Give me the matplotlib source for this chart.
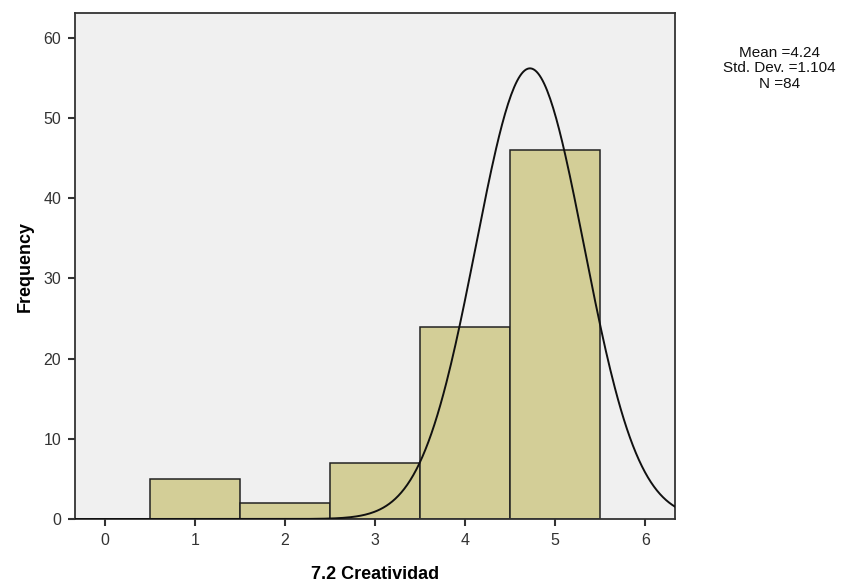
import numpy as np
import matplotlib.pyplot as plt

plt.rcParams['font.family'] = ['Liberation Sans', 'DejaVu Sans']

# histogram bins (value -> frequency)
categories = [1, 2, 3, 4, 5]
frequencies = [5, 2, 7, 24, 46]

# fitted curve as drawn in the picture (centre, spread, peak height)
curve_center = 4.72
curve_sd = 0.60
curve_peak = 56.2

stats_text = "Mean =4.24\nStd. Dev. =1.104\nN =84"

fig = plt.figure(figsize=(8.43, 5.84), dpi=100)
ax = fig.add_axes([0.089, 0.1113, 0.7117, 0.8664])
ax.set_facecolor('#f0f0f0')

ax.bar(categories, frequencies, width=1.0, color='#d3ce97',
       edgecolor='#222222', linewidth=1.1, zorder=2)

xs = np.linspace(-0.33, 6.33, 400)
ys = curve_peak * np.exp(-0.5 * ((xs - curve_center) / curve_sd) ** 2)
ax.plot(xs, ys, color='#111111', linewidth=1.4, zorder=3)

ax.set_xlim(-0.33, 6.33)
ax.set_ylim(0, 63.1)
ax.set_xticks(range(0, 7))
ax.set_yticks(range(0, 61, 10))
ax.tick_params(direction='out', length=5, width=1.5, colors='#333333',
               labelsize=11.5, labelcolor='#333333', pad=5)

for s in ax.spines.values():
    s.set_color('#333333')
    s.set_linewidth(1.3)

ax.set_xlabel('7.2 Creatividad', fontsize=13, fontweight='bold', labelpad=13)
ax.set_ylabel('Frequency', fontsize=13, fontweight='bold', labelpad=7)

fig.text(0.925, 0.922, stats_text, ha='center', va='top', fontsize=11,
         linespacing=1.15, color='#111111')

fig.savefig('out.png', dpi=100)
